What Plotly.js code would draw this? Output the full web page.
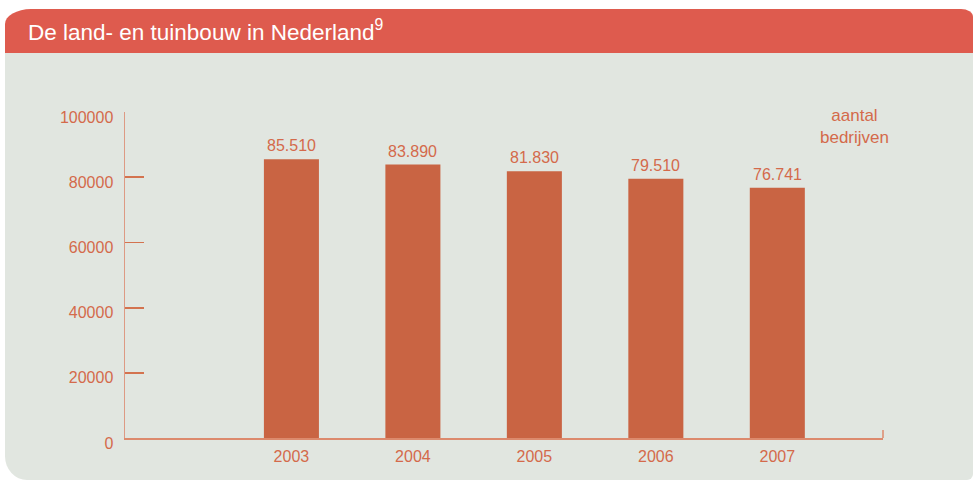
<!DOCTYPE html>
<html>
<head>
<meta charset="utf-8">
<script src="https://cdn.plot.ly/plotly-3.0.1.min.js"></script>
<style>
  html, body { margin: 0; padding: 0; background: #ffffff; }
  #wrap { position: relative; width: 974px; height: 480px; overflow: hidden; }
  #header { position: absolute; left: 5px; top: 9px; width: 968px; height: 44px; background: #de5b4e;
            border-top-left-radius: 26px 15px; border-top-right-radius: 12px 8px; }
  #panel { position: absolute; left: 5px; top: 53px; width: 968px; height: 427px; background: #e1e6e0;
           border-bottom-left-radius: 22px 24px; border-bottom-right-radius: 6px; }
  #chart { position: absolute; left: 0; top: 0; width: 974px; height: 480px; }
</style>
</head>
<body>
<div id="wrap">
  <div id="header"></div>
  <div id="panel"></div>
  <div id="chart"></div>
</div>
<script>
// Data
var years = ['2003', '2004', '2005', '2006', '2007'];
var bedrijven = [85510, 83890, 81830, 79510, 76741];
var valueLabels = ['85.510', '83.890', '81.830', '79.510', '76.741'];
var yTicks = [0, 20000, 40000, 60000, 80000, 100000];
var yTickLabels = ['0', '20000', '40000', '60000', '80000', '100000'];

var textColor = '#d46a4b';
var barColor = '#c96443';
var fontFam = 'Liberation Sans, Arial, sans-serif';

var trace = {
  type: 'bar',
  x: years,
  y: bedrijven,
  width: 0.453,
  marker: { color: barColor },
  hoverinfo: 'x+y'
};

// value labels above the bars (category axis: use category index)
var annotations = years.map(function (yr, i) {
  return {
    x: i, y: bedrijven[i], xref: 'x', yref: 'y',
    text: valueLabels[i], showarrow: false,
    xanchor: 'center', yanchor: 'bottom', yshift: 3,
    font: { family: fontFam, size: 16, color: textColor }
  };
});
annotations.push({
  xref: 'paper', yref: 'paper', x: 0.963, y: 0.956,
  xanchor: 'center', yanchor: 'middle',
  text: 'aantal<br>bedrijven', showarrow: false,
  font: { family: fontFam, size: 17, color: textColor }
});

var layout = {
  width: 974, height: 480,
  margin: { l: 125, r: 91, t: 112, b: 42 },
  paper_bgcolor: 'rgba(0,0,0,0)',
  plot_bgcolor: 'rgba(0,0,0,0)',
  showlegend: false,
  title: {
    text: 'De land- en tuinbouw in Nederland<sup>9</sup>',
    xref: 'container', yref: 'container',
    x: 28 / 974, xanchor: 'left',
    y: 1 - 32 / 480, yanchor: 'middle',
    font: { family: fontFam, size: 22.5, color: '#ffffff' }
  },
  xaxis: {
    type: 'category',
    range: [-1.37, 4.87],
    showgrid: false, zeroline: false,
    showline: true, linecolor: '#dc8a6d', linewidth: 1.5,
    ticks: '', ticklabelstandoff: 3,
    tickfont: { family: fontFam, size: 16, color: textColor },
    fixedrange: true
  },
  yaxis: {
    range: [0, 100000],
    tickvals: yTicks, ticktext: yTickLabels,
    showgrid: false, zeroline: false,
    showline: true, linecolor: '#dd9a84', linewidth: 1.5,
    ticks: 'inside', ticklen: 19, tickwidth: 1.8, tickcolor: '#d3734f',
    ticklabelstandoff: 7, ticklabelshift: 5,
    tickfont: { family: fontFam, size: 16, color: textColor },
    fixedrange: true
  },
  annotations: annotations,
  shapes: [{
    type: 'line', xref: 'paper', yref: 'paper',
    x0: 1, x1: 1, y0: 0, y1: 8 / 326,
    line: { color: '#dc8a6d', width: 1.5 }
  }]
};

Plotly.newPlot('chart', [trace], layout, { displayModeBar: false, staticPlot: true });
</script>
</body>
</html>
